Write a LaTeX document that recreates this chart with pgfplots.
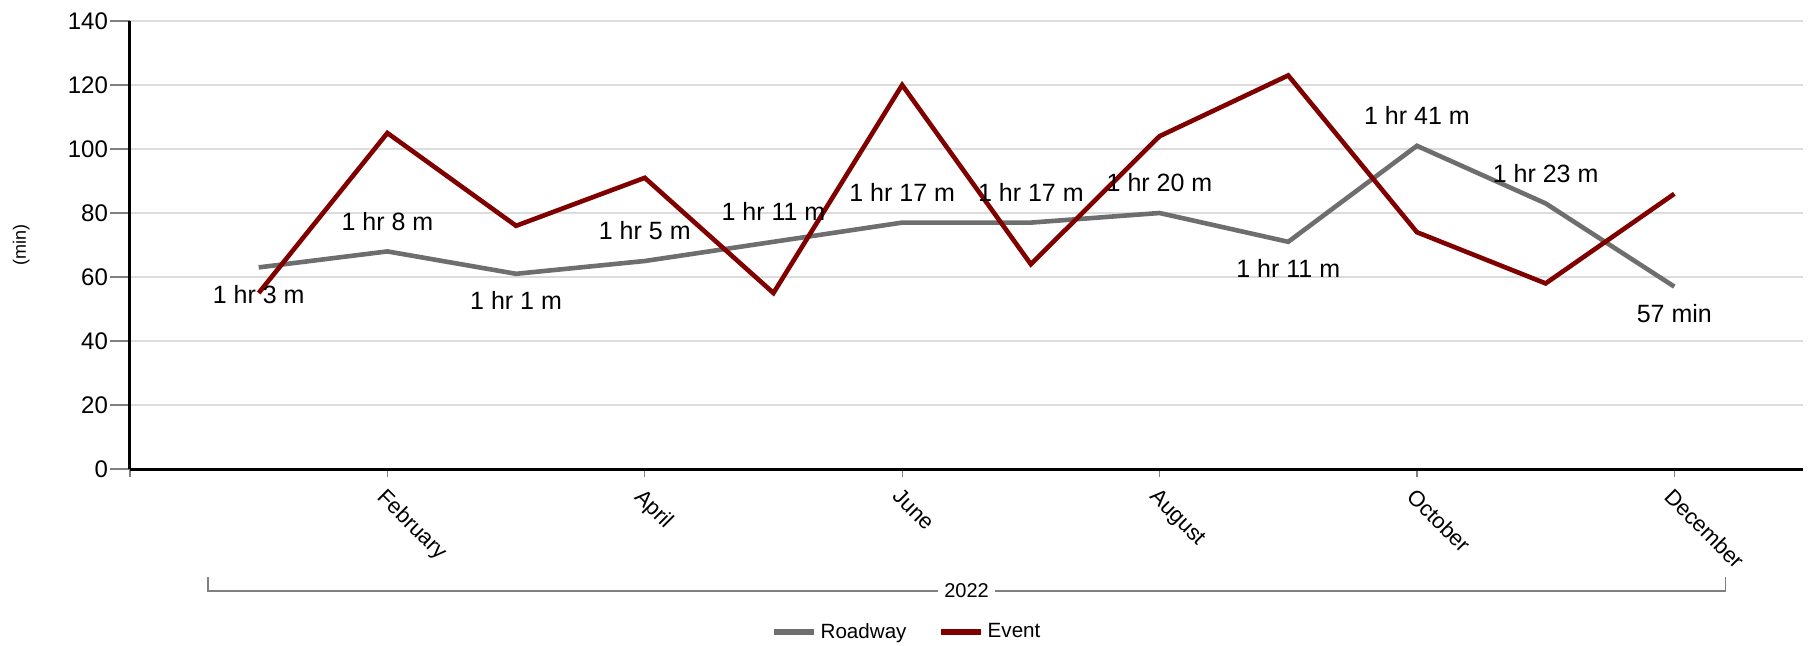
\documentclass[border=0pt]{standalone}
\usepackage{fontspec}
\setmainfont{Liberation Sans}
\usepackage{pgfplots}
\pgfplotsset{compat=1.18}
\usepackage{pgfplotstable}

\definecolor{roadway}{HTML}{6E6E6E}
\definecolor{eventc}{HTML}{800000}
\definecolor{gridgray}{HTML}{DCDCDC}

% month, roadway, event (min), label of roadway, label shift (pt)
\pgfplotstableread{
m road ev lbl pos
1 63 55 {1 hr 3 m} -13.5
2 68 105 {1 hr 8 m} 15
3 61 76 {1 hr 1 m} -13.5
4 65 91 {1 hr 5 m} 15
5 71 55 {1 hr 11 m} 15
6 77 120 {1 hr 17 m} 15
7 77 64 {1 hr 17 m} 15
8 80 104 {1 hr 20 m} 15
9 71 123 {1 hr 11 m} -13.5
10 101 74 {1 hr 41 m} 15
11 83 58 {1 hr 23 m} 15
12 57 86 {57 min} -13.5
}\durations

\begin{document}
\begin{tikzpicture}
\path[use as bounding box] (-65pt,-88pt) rectangle (840pt,234.5pt);
\begin{axis}[
  at={(0,0)}, anchor=south west,
  scale only axis,
  width=836.5pt, height=224pt,
  xmin=0, xmax=13,
  ymin=0, ymax=140,
  clip=false,
  axis x line*=bottom,
  axis y line*=left,
  axis line style={black, line width=1.5pt},
  ytick={0,20,...,140},
  xtick={0,2,...,12},
  xticklabels={,February,April,June,August,October,December},
  tick align=outside,
  major tick length=10pt,
  ytick style={gray, line width=0.6pt},
  xtick style={gray, line width=0.6pt, /pgfplots/major tick length=4pt},
  ymajorgrids,
  grid style={gridgray, line width=1.3pt},
  /pgf/number format/assume math mode=true,
  yticklabel style={font=\fontsize{12}{14}\selectfont},
  yticklabel shift=-2.5pt,
  xticklabel style={font=\fontsize{11}{13}\selectfont, rotate=-45, anchor=north west},
  xticklabel shift=-6pt,
  ylabel={(min)},
  ylabel style={at={(axis description cs:-0.065,0.5)}, anchor=center, font=\fontsize{9}{11}\selectfont},
  legend columns=2,
  legend style={at={(0.465,-0.364)}, anchor=center, draw=none,
    font=\fontsize{10.3}{12}\selectfont,
    /tikz/every even column/.append style={column sep=14pt}},
  legend image code/.code={\draw[#1, line width=2.6pt] (0pt,0pt) -- (20pt,0pt);},
]
\addplot[roadway, line width=2.3pt,
  nodes near coords, point meta=explicit symbolic,
  visualization depends on={\thisrow{pos}\as\lpos},
  every node near coord/.append style={anchor=center, yshift=\lpos pt,
    text=black, font=\fontsize{12.5}{14}\selectfont}]
  table[x=m, y=road, meta=lbl] {\durations};
\addplot[eventc, line width=2.3pt] table[x=m, y=ev] {\durations};
\legend{Roadway, Event}

\draw[gray, line width=0.7pt]
  ([yshift=-54pt]axis cs:0.605,0) -- ([yshift=-61pt]axis cs:0.605,0)
  -- ([yshift=-61pt]axis cs:12.4,0) -- ([yshift=-54pt]axis cs:12.4,0);
\node[fill=white, inner xsep=3pt, inner ysep=1pt, font=\fontsize{10}{12}\selectfont]
  at ([yshift=-61pt]axis cs:6.5,0) {2022};
\end{axis}
\end{tikzpicture}
\end{document}
